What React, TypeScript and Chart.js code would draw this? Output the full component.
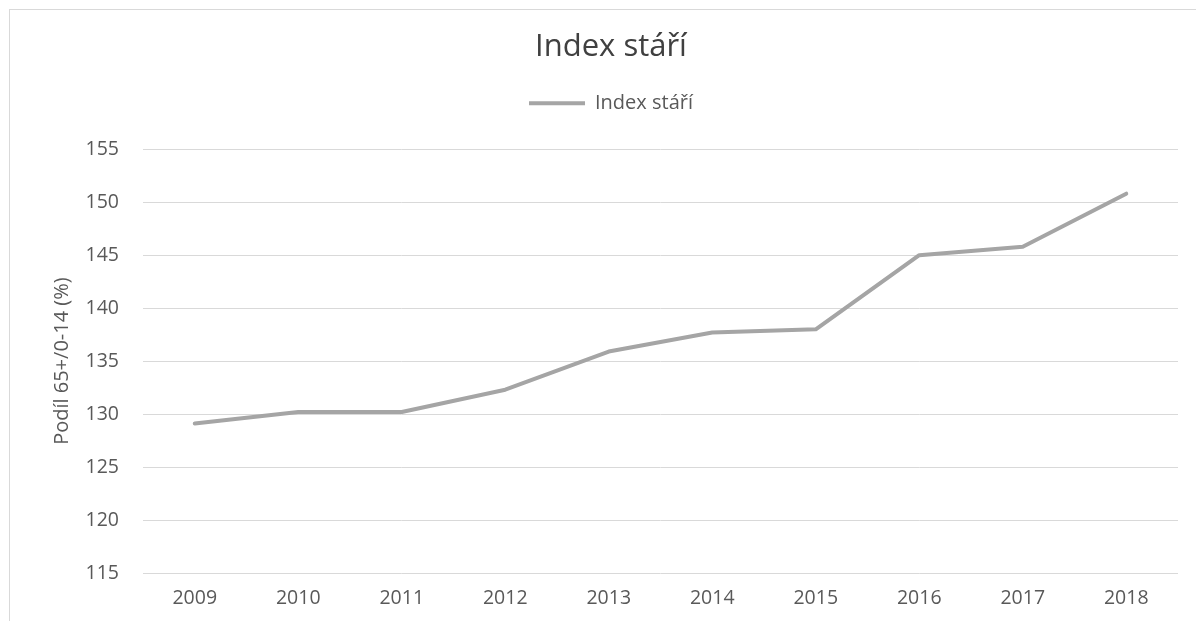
import React, { useEffect, useRef } from "react";
import { Chart, registerables } from "chart.js";

Chart.register(...registerables);

const categories = ["2009", "2010", "2011", "2012", "2013", "2014", "2015", "2016", "2017", "2018"];
const seriesLabel = "Index stáří";
const indexValues = [129.1, 130.2, 130.2, 132.3, 135.9, 137.7, 138.0, 145.0, 145.8, 150.8];
const chartTitle = "Index stáří";
const yAxisTitle = "Podíl 65+/0-14 (%)";
const yMin = 115;
const yMax = 155;
const yStep = 5;

export default function App() {
  const canvasRef = useRef<HTMLCanvasElement | null>(null);

  useEffect(() => {
    const canvas = canvasRef.current;
    if (!canvas) return;
    const font = "'Open Sans', 'Noto Sans', sans-serif";
    const chart = new Chart(canvas, {
      type: "line",
      data: {
        labels: categories,
        datasets: [
          {
            label: seriesLabel,
            data: indexValues,
            borderColor: "#a5a5a5",
            backgroundColor: "#a5a5a5",
            borderWidth: 4,
            borderCapStyle: "round",
            borderJoinStyle: "round",
            pointRadius: 0,
            pointHoverRadius: 0,
            tension: 0,
            fill: false,
          },
        ],
      },
      options: {
        responsive: false,
        maintainAspectRatio: false,
        animation: false,
        devicePixelRatio: 1,
        layout: { padding: { top: 0, left: 44, right: 18, bottom: 0 } },
        plugins: {
          title: {
            display: true,
            text: chartTitle,
            color: "#404040",
            font: { family: font, size: 31, weight: "normal", lineHeight: 1.2 },
            padding: { top: 29, bottom: 17 },
          },
          legend: {
            display: true,
            position: "top",
            labels: {
              usePointStyle: true,
              pointStyle: "line",
              pointStyleWidth: 56,
              color: "#595959",
              padding: 10,
              font: { family: font, size: 20, lineHeight: 1.2 },
            },
          },
          tooltip: { enabled: false },
        },
        scales: {
          x: {
            type: "category",
            position: "bottom",
            offset: true,
            grid: { display: false, drawTicks: false },
            border: { display: false },
            ticks: {
              color: "#595959",
              padding: 14,
              font: { family: font, size: 19.5 },
              maxRotation: 0,
              autoSkip: false,
            },
            afterFit: (scale: any) => {
              scale.height = 48;
            },
          },
          xTop: {
            type: "category",
            position: "top",
            display: true,
            grid: { display: false, drawTicks: false },
            border: { display: false },
            ticks: { display: false },
            afterFit: (scale: any) => {
              scale.height = 26;
            },
          },
          y: {
            type: "linear",
            min: yMin,
            max: yMax,
            ticks: {
              stepSize: yStep,
              color: "#595959",
              padding: 24,
              font: { family: font, size: 19.5 },
            },
            grid: { color: "#d9d9d9", lineWidth: 1, drawTicks: false },
            border: { display: false },
            title: {
              display: true,
              text: yAxisTitle,
              color: "#595959",
              font: { family: font, size: 20, lineHeight: 1.2 },
              padding: { top: 6, bottom: 0 },
            },
            afterFit: (scale: any) => {
              scale.width = 99;
            },
          },
        },
      },
    } as any);
    return () => {
      chart.destroy();
    };
  }, []);

  return (
    <div
      style={{
        position: "fixed",
        left: 0,
        top: 0,
        width: 1196,
        height: 621,
        overflow: "hidden",
        background: "#ffffff",
      }}
    >
      <div
        style={{
          position: "absolute",
          left: 9,
          top: 9,
          width: 1300,
          height: 700,
          border: "1px solid #d9d9d9",
          boxSizing: "border-box",
        }}
      />
      <canvas
        ref={canvasRef}
        width={1196}
        height={621}
        style={{ position: "absolute", left: 0, top: 0, width: 1196, height: 621 }}
      />
    </div>
  );
}
